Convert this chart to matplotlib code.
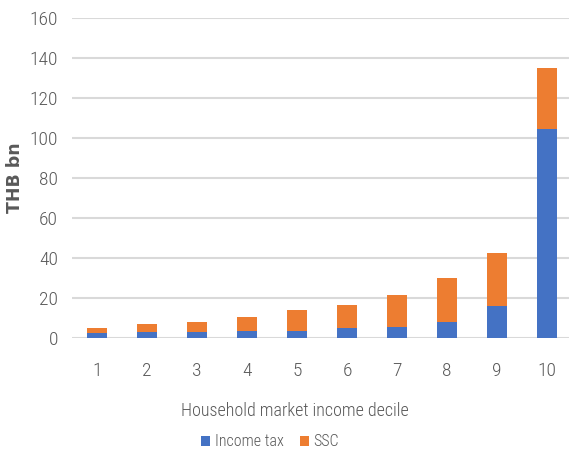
import matplotlib
matplotlib.use('Agg')
import matplotlib.pyplot as plt

# values, THB bn
deciles = ['1', '2', '3', '4', '5', '6', '7', '8', '9', '10']
income_tax = [2.3, 3.0, 3.0, 3.5, 3.5, 4.8, 5.5, 8.2, 16.0, 104.7]
ssc = [2.5, 4.0, 5.0, 7.2, 10.3, 11.7, 16.2, 22.0, 26.3, 30.3]

narrow = 'Roboto Condensed'
grey = '#595959'

fig = plt.figure(figsize=(5.69, 4.51), dpi=100)
ax = fig.add_axes([0.1265, 0.2506, 0.879, 0.7095])

x = list(range(1, len(deciles) + 1))
ax.bar(x, income_tax, width=0.4, color='#4472C4', label='Income tax', zorder=3)
ax.bar(x, ssc, width=0.4, bottom=income_tax, color='#ED7D31', label='SSC', zorder=3)

ax.set_xlim(0.5, 10.5)
ax.set_ylim(0, 160)
ax.set_yticks(range(0, 161, 20))
ax.set_xticks(x)
ax.set_xticklabels(deciles)
ax.grid(axis='y', color='#D9D9D9', linewidth=1.5, zorder=0)
for s in ax.spines.values():
    s.set_visible(False)
ax.tick_params(length=0, colors=grey, labelsize=14)
ax.tick_params(axis='x', pad=17)
ax.tick_params(axis='y', pad=10)
for lab in ax.get_xticklabels() + ax.get_yticklabels():
    lab.set_family(narrow)
    lab.set_fontweight(300)

ax.set_xlabel('Household market income decile', fontsize=13, color=grey,
              family=narrow, fontweight=300)
ax.xaxis.set_label_coords(0.446, -0.2)
ax.set_ylabel('THB bn', fontsize=12.5, color=grey, fontweight='bold',
              family='DejaVu Sans')
ax.yaxis.set_label_coords(-0.096, 0.5)

fig.legend(loc='center', bbox_to_anchor=(0.475, 0.02), ncol=2, frameon=False,
           prop={'family': narrow, 'size': 11.5, 'weight': 300}, labelcolor=grey,
           handlelength=0.55, handleheight=0.55, handletextpad=0.3, columnspacing=1.0)

fig.savefig('out.png', dpi=100)
